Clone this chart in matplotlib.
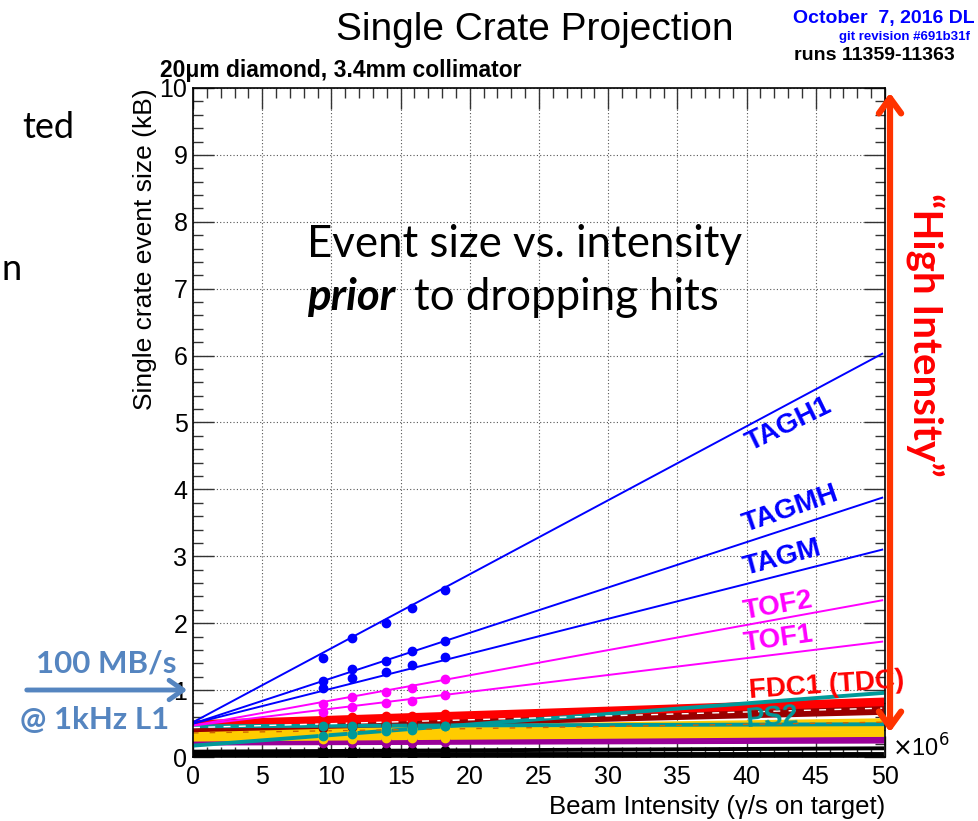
import matplotlib
matplotlib.use("Agg")
import matplotlib.pyplot as plt
from matplotlib.patches import FancyArrowPatch
from matplotlib.ticker import MultipleLocator

plt.rcParams["font.family"] = ["Liberation Sans", "DejaVu Sans"]

# beam intensities of the measured runs (x 10^6 gamma/s)
run_x = [9.37, 11.5, 13.95, 15.8, 18.2]

# one entry per crate: colour, fit value at 0 and at 50, measured points
crate_color = [
    "black", "black", "black",
    "#990099", "#990099",
    "#ffcc00", "#ffcc00", "#ffcc00", "#ffcc00", "#ffcc00", "#ffcc00",
    "#990000", "#990000", "#990000", "#990000",
    "#ff0000", "#ff0000", "#ff0000",
    "#009999", "#009999",
    "#ff00ff", "#ff00ff",
    "#0000ff", "#0000ff", "#0000ff",
]
fit_at_0 = [0.08, 0.04, 0.00,
            0.24, 0.20,
            0.40, 0.37, 0.34, 0.31, 0.28, 0.26,
            0.45, 0.43, 0.41, 0.40,
            0.52, 0.49, 0.46,
            0.46, 0.17,
            0.47, 0.47,
            0.50, 0.50, 0.52]
fit_at_50 = [0.13, 0.04, 0.00,
             0.28, 0.23,
             0.55, 0.50, 0.46, 0.43, 0.38, 0.33,
             0.77, 0.74, 0.70, 0.66,
             0.86, 0.82, 0.79,
             0.49, 0.96,
             1.73, 2.35,
             3.11, 3.89, 6.05]
crate_pts = [
    [0.10, 0.10, 0.10, 0.10, 0.10],
    [0.05, 0.05, 0.05, 0.05, 0.05],
    [0.00, 0.00, 0.00, 0.00, 0.00],
    [0.24, 0.24, 0.25, 0.25, 0.25],
    [0.21, 0.21, 0.21, 0.21, 0.22],
    [0.42, 0.43, 0.43, 0.44, 0.45],
    [0.38, 0.39, 0.40, 0.40, 0.41],
    [0.36, 0.36, 0.37, 0.37, 0.38],
    [0.33, 0.33, 0.34, 0.34, 0.35],
    [0.30, 0.30, 0.31, 0.31, 0.32],
    [0.27, 0.27, 0.28, 0.28, 0.28],
    [0.50, 0.51, 0.52, 0.53, 0.55],
    [0.48, 0.49, 0.50, 0.51, 0.53],
    [0.46, 0.47, 0.48, 0.49, 0.50],
    [0.44, 0.45, 0.46, 0.47, 0.48],
    [0.58, 0.60, 0.61, 0.62, 0.65],
    [0.55, 0.56, 0.58, 0.59, 0.61],
    [0.52, 0.53, 0.55, 0.56, 0.57],
    [0.47, 0.47, 0.46, 0.47, 0.47],
    [0.31, 0.34, 0.39, 0.41, 0.46],
    [0.68, 0.75, 0.80, 0.83, 0.92],
    [0.79, 0.89, 0.97, 1.03, 1.16],
    [1.03, 1.18, 1.27, 1.38, 1.50],
    [1.13, 1.31, 1.43, 1.58, 1.74],
    [1.48, 1.78, 2.00, 2.23, 2.50],
]

# crate labels: text, colour, position, rotation
lbl_text = ["TAGH1", "TAGMH", "TAGM", "TOF2", "TOF1", "FDC1 (TDC)", "PS2"]
lbl_color = ["#0000ff", "#0000ff", "#0000ff", "#ff00ff", "#ff00ff", "#ff0000", "#009999"]
lbl_x = [43.1, 43.2, 42.6, 42.3, 42.3, 45.8, 41.8]
lbl_y = [4.97, 3.70, 2.98, 2.25, 1.76, 1.07, 0.59]
lbl_rot = [26, 19, 15, 10, 8, 4, 5]

W, H = 979, 821
fig = plt.figure(figsize=(W / 100, H / 100), dpi=100)
ax = fig.add_axes([193 / W, 64 / H, 692 / W, 669 / H])

x_end = 49.8
for col, y0, y1, pts in zip(crate_color, fit_at_0, fit_at_50, crate_pts):
    lw = 1.4 if col in ("#0000ff", "#ff00ff") else 2.8
    ax.plot([0, x_end], [y0, y0 + (y1 - y0) * x_end / 50], color=col, lw=lw, zorder=2)
    ax.plot(run_x, pts, "o", color=col, ms=6, zorder=3)

# faint dashed lines hidden inside the bands
ax.plot([0, x_end], [0.36, 0.52], color="#cc6600", lw=1, ls=(0, (4, 8)), zorder=2)
ax.plot([0, x_end], [0.44, 0.73], color="white", lw=1, ls=(0, (5, 6)), zorder=2)

for t, c, x, y, r in zip(lbl_text, lbl_color, lbl_x, lbl_y, lbl_rot):
    ax.text(x, y, t, color=c, fontsize=20, fontweight="bold", rotation=r,
            ha="center", va="center", rotation_mode="anchor", zorder=5)

ax.set_xlim(0, 50)
ax.set_ylim(0, 10)
ax.xaxis.set_major_locator(MultipleLocator(5))
ax.xaxis.set_minor_locator(MultipleLocator(1))
ax.yaxis.set_major_locator(MultipleLocator(1))
ax.yaxis.set_minor_locator(MultipleLocator(0.2))
ax.tick_params(which="both", direction="in", top=True, right=True, labelsize=18,
               color="#333333")
ax.tick_params(which="major", length=15, width=1)
ax.tick_params(which="minor", length=7, width=1)
ax.tick_params(axis="x", pad=6)
ax.tick_params(axis="y", pad=4)
ax.grid(True, which="major", ls=(0, (1, 2)), color="#555555", lw=0.8)
ax.set_axisbelow(True)
for s in ax.spines.values():
    s.set_linewidth(1.2)

fig.text(885 / W, 1 - 819 / H, "Beam Intensity (\u03b3/s on target)", ha="right",
         va="bottom", fontsize=18.5)
fig.text(145 / W, 1 - 88 / H, "Single crate event size (kB)", rotation=90,
         ha="center", va="top", fontsize=19)
fig.text(892 / W, 1 - 748 / H, r"$\times$10$^{6}$", ha="left", va="center", fontsize=17)

fig.text(535 / W, 1 - 30 / H, "Single Crate Projection", ha="center", va="center",
         fontsize=28)
fig.text(975 / W, 1 - 19 / H, "October  7, 2016 DL", ha="right", va="center",
         fontsize=14, fontweight="bold", color="#0000ff")
fig.text(970 / W, 1 - 37 / H, "git revision #691b31f", ha="right", va="center",
         fontsize=9.5, fontweight="bold", color="#0000ff")
fig.text(955 / W, 1 - 55 / H, "runs 11359-11363", ha="right", va="center",
         fontsize=14, fontweight="bold")
fig.text(160 / W, 1 - 71 / H, "20\u03bcm diamond, 3.4mm collimator", ha="left",
         va="center", fontsize=16.5, fontweight="bold")

# slide annotations
fig.text(307 / W, 1 - 257 / H, "Event size vs. intensity", ha="left", va="baseline",
         fontsize=31.5, family="Lato")
fig.text(307 / W, 1 - 310 / H, "prior", ha="left", va="baseline", fontsize=31.5,
         family="Lato", fontweight="bold", style="italic")
fig.text(414 / W, 1 - 310 / H, "to dropping hits", ha="left", va="baseline",
         fontsize=31.5, family="Lato")
fig.text(22 / W, 1 - 128 / H, "ted", ha="left", va="center", fontsize=26, family="Lato")
fig.text(1 / W, 1 - 270 / H, "n", ha="left", va="center", fontsize=26, family="Lato")

fig.text(925 / W, 1 - 335 / H, "\u201cHigh Intensity\u201d", rotation=-90, ha="center",
         va="center", fontsize=29, family="Lato", fontweight="bold", color="#ff0000")
fig.patches.append(FancyArrowPatch((890 / W, 1 - 735 / H), (890 / W, 1 - 90 / H),
                                   transform=fig.transFigure,
                                   arrowstyle="<->,head_length=11,head_width=8",
                                   color="#ff3300", lw=4.5, zorder=10))

blue = "#5585c0"
fig.text(106 / W, 1 - 663 / H, "100 MB/s", ha="center", va="center", fontsize=22.5,
         family="Lato", fontweight="bold", color=blue)
fig.text(95 / W, 1 - 720 / H, "@ 1kHz L1", ha="center", va="center", fontsize=22.5,
         family="Lato", fontweight="bold", color=blue)
fig.patches.append(FancyArrowPatch((24 / W, 1 - 690 / H), (190 / W, 1 - 690 / H),
                                   transform=fig.transFigure,
                                   arrowstyle="->,head_length=10,head_width=7",
                                   color=blue, lw=3.5, zorder=10))

fig.savefig("out.png", dpi=100)
